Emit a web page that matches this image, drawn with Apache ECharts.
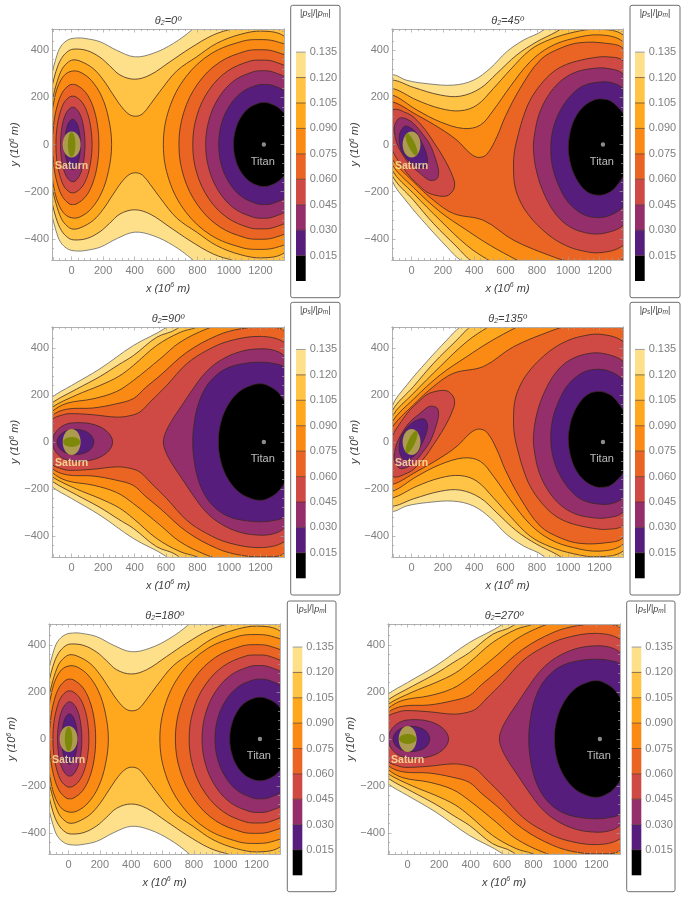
<!DOCTYPE html>
<html><head><meta charset="utf-8">
<style>html,body{margin:0;padding:0;background:#fff}#c{width:685px;height:899px}</style>
<script src="https://cdn.jsdelivr.net/npm/echarts@6/dist/echarts.min.js"></script>
</head><body><div id="c"></div>
<script>
// ---- category & tick data
const levels=[0,0.015,0.03,0.045,0.06,0.075,0.09,0.105,0.12,0.135,0.15];
const bandColors=['#000000','#561d7c','#952f6c','#cf4a45','#ea6423','#fb8a14','#ffa81e','#ffc445','#ffe08a','#ffffff'];
const xMajor=[0,200,400,600,800,1000,1200];
const yMajor=[-400,-200,0,200,400];
const xMinor=[-120,-80,-40,40,80,120,160,240,280,320,360,440,480,520,560,640,680,720,760,840,880,920,960,1040,1080,1120,1160,1240,1280,1320];
const yMinor=[-480,-440,-360,-320,-280,-240,-160,-120,-80,-40,40,80,120,160,240,280,320,360,440,480];
const xRange=[-125,1350], yRange=[-490,490];

// ---- contours: theta2 = 0 deg, upper half (mirrored in y)
const a135=[[-200,0],[-170,150],[-125,300],[-100,365],[-70,415],[-20,445],[40,452],[84,450],[180,436],[285,400],[400,372],[519,387],[647,429],[764,486],[900,570],[1200,640],[1500,600],[1900,300],[2000,0]];
const a120=[[-190,0],[-165,130],[-125,245],[-100,310],[-65,365],[-20,397],[20,405],[100,398],[180,370],[240,335],[307,295],[400,277],[498,295],[625,351],[752,408],[901,465],[1030,493],[1200,530],[1400,520],[1700,300],[1800,0]];
const a105=[[-180,0],[-160,100],[-125,184],[-100,250],[-65,315],[-30,345],[8,359],[60,352],[137,322],[200,275],[260,215],[317,160],[365,128],[408,120],[450,130],[500,170],[561,225],[668,312],[795,372],[922,429],[1071,467],[1210,481],[1350,460],[1600,300],[1700,0]];
const a090s=[[-170,0],[-140,70],[-125,133],[-108,200],[-80,258],[-40,298],[10,312],[60,305],[125,272],[190,205],[235,110],[254,0]];
const a090t=[[583,0],[620,152],[725,286],[886,385],[1085,438],[1190,445],[1295,438],[1494,385],[1655,286],[1760,152],[1797,0]];
const a075s=[[-122,0],[-114,87],[-92,164],[-59,221],[-17,251],[5,255],[34,251],[89,221],[134,164],[163,87],[173,0]];
const a075t=[[682,0],[713,137],[802,258],[938,348],[1106,396],[1195,402],[1284,396],[1452,348],[1588,258],[1677,137],[1708,0]];
const a060s=[[-100,0],[-94,70],[-75,132],[-48,178],[-13,202],[5,205],[27,202],[68,178],[101,132],[122,70],[130,0]];
const a060t=[[770,0],[796,122],[872,230],[988,310],[1129,353],[1205,358],[1281,353],[1422,310],[1538,230],[1614,122],[1640,0]];
const a045s=[[-71,0],[-66,54],[-53,102],[-32,137],[-7,156],[7,158],[21,156],[46,137],[67,102],[80,54],[85,0]];
const a045t=[[852,0],[874,107],[937,201],[1033,271],[1152,308],[1215,313],[1278,308],[1397,271],[1493,201],[1556,107],[1578,0]];
const a030s=[[-44,0],[-41,37],[-32,69],[-19,93],[-3,105],[6,107],[15,105],[31,93],[44,69],[53,37],[56,0]];
const a030t=[[935,0],[952,87],[1003,164],[1080,221],[1175,251],[1225,255],[1275,251],[1370,221],[1447,164],[1498,87],[1515,0]];
const a015t=[[1029,0],[1041,61],[1074,114],[1125,154],[1188,175],[1222,178],[1256,175],[1319,154],[1370,114],[1403,61],[1415,0]];

// ---- theta2 = 90 deg, upper half (mirrored in y)
const c135=[[-230,0],[-200,140],[-125,191],[0,241],[180,312],[392,411],[604,489],[800,600],[1300,650],[1800,300],[1900,0]];
const c120=[[-220,0],[-200,120],[-125,167],[30,225],[180,279],[300,330],[392,368],[540,446],[668,482],[800,570],[1300,620],[1750,300],[1850,0]];
const c105=[[-210,0],[-200,100],[-125,148],[30,200],[180,241],[300,280],[392,326],[540,411],[689,467],[795,489],[1000,550],[1300,590],[1700,300],[1800,0]];
const c090=[[-205,0],[-190,80],[-125,130],[-30,165],[136,184],[285,215],[392,262],[562,354],[689,425],[859,482],[1000,510],[1250,540],[1650,300],[1750,0]];
const c075=[[-200,0],[-180,60],[-125,113],[-30,140],[136,145],[285,163],[392,185],[470,232],[562,283],[731,382],[922,453],[1071,482],[1220,489],[1350,475],[1600,300],[1700,0]];
const c060=[[-170,0],[-160,50],[-125,96],[-60,115],[-12,121],[136,116],[285,106],[370,112],[434,128],[498,170],[604,241],[731,333],[859,390],[1000,430],[1200,450],[1350,425],[1550,300],[1650,0]];
const c045s=[[-122,0],[-112,30],[-80,58],[-30,77],[20,82],[69,82],[120,78],[180,65],[225,45],[252,22],[260,0]];
const c045t=[[583,0],[600,45],[640,95],[700,155],[770,225],[850,295],[944,347],[1071,385],[1199,397],[1290,390],[1350,368],[1500,250],[1600,0]];
const c030s=[[-93,0],[-86,18],[-66,35],[-35,47],[4,53],[24,54],[44,53],[83,47],[114,35],[134,18],[141,0]];
const c030t=[[770,0],[775,60],[800,150],[850,230],[920,285],[1000,318],[1100,335],[1200,340],[1280,335],[1350,319],[1480,200],[1550,0]];
const c015t=[[933,0],[949,85],[995,159],[1066,215],[1153,244],[1199,248],[1236,244],[1307,215],[1364,159],[1401,85],[1414,0]];

// ---- theta2 = 45 deg, full closed curves
const b135=[[-170,0],[-150,250],[-125,295],[-29,272],[100,258],[268,252],[396,273],[502,323],[608,394],[715,443],[842,486],[1000,600],[1500,600],[1700,0],[1500,-650],[700,-650],[311,-490],[226,-435],[98,-343],[-29,-244],[-125,-152]];
const b120=[[-165,0],[-150,240],[-125,273],[13,242],[183,210],[311,205],[438,238],[545,302],[672,380],[800,436],[927,479],[1050,530],[1500,560],[1650,0],[1500,-620],[700,-620],[375,-490],[290,-435],[141,-336],[13,-237],[-125,-130]];
const b105=[[-160,0],[-150,210],[-125,238],[35,188],[183,153],[311,143],[417,167],[523,238],[629,316],[757,401],[885,446],[1033,476],[1182,489],[1350,465],[1550,300],[1620,0],[1500,-600],[800,-600],[491,-490],[353,-428],[183,-322],[13,-208],[-125,-108]];
const b090=[[-155,0],[-150,180],[-125,210],[35,146],[183,96],[332,68],[438,82],[523,146],[629,245],[757,351],[885,415],[1033,450],[1203,465],[1350,436],[1530,280],[1600,0],[1480,-560],[900,-570],[672,-490],[502,-428],[353,-364],[183,-286],[13,-183],[-125,-85]];
const b075=[[-150,0],[-145,150],[-125,181],[35,125],[183,68],[290,18],[375,-38],[428,-55],[481,-41],[545,33],[598,118],[693,238],[821,358],[948,408],[1076,432],[1246,429],[1350,408],[1500,260],[1580,0],[1500,-350],[1350,-485],[1200,-510],[1000,-495],[906,-477],[651,-406],[460,-322],[268,-293],[141,-237],[13,-159],[-125,-62]];
const b060s=[[-119,146],[-85,148],[-51,139],[-5,125],[34,103],[90,60],[140,11],[190,-40],[236,-95],[262,-135],[274,-159],[272,-185],[257,-202],[235,-215],[204,-220],[150,-215],[98,-202],[45,-172],[-8,-138],[-65,-88],[-119,-31],[-175,60]];
const b060t=[[651,-100],[657,-30],[683,47],[715,120],[757,188],[825,255],[906,309],[990,340],[1076,357],[1160,368],[1246,372],[1350,355],[1500,200],[1550,-100],[1500,-300],[1350,-428],[1203,-459],[1076,-449],[990,-430],[906,-399],[825,-355],[757,-307],[700,-250],[661,-180]];
const b045s=[[-110,75],[-95,100],[-72,113],[-30,108],[13,89],[70,45],[119,-3],[155,-65],[172,-109],[170,-135],[162,-145],[140,-152],[108,-150],[50,-120],[-8,-87],[-55,-45],[-93,4],[-108,45]];
const b045t=[[778,-20],[787,50],[815,130],[870,205],[945,265],[1040,305],[1150,322],[1246,323],[1350,299],[1500,150],[1520,-100],[1480,-220],[1350,-343],[1246,-374],[1140,-378],[1012,-350],[920,-295],[850,-215],[800,-120]];
const b030s=[[-78,40],[-62,65],[-40,78],[-5,70],[34,47],[62,12],[87,-24],[100,-55],[102,-74],[92,-92],[77,-99],[40,-95],[3,-81],[-30,-60],[-61,-32],[-75,0]];
const b030t=[[889,-10],[905,70],[950,145],[1020,210],[1100,250],[1224,266],[1300,258],[1350,238],[1450,160],[1510,0],[1450,-180],[1350,-265],[1270,-300],[1182,-310],[1090,-295],[1000,-245],[940,-175],[900,-95]];
const b015t=[[1001,-10],[1015,60],[1050,120],[1105,165],[1170,190],[1213,193],[1270,185],[1330,150],[1350,132],[1395,70],[1410,-10],[1395,-80],[1350,-137],[1290,-190],[1240,-210],[1192,-215],[1130,-205],[1075,-170],[1030,-115],[1008,-60]];

// ---- bodies
const saturnDisc=[0,0,57,55];
const titanDot=[1222,0];
const saturnLabel=[0,-92], titanLabel=[1215,-72];
// Olive ring band of Saturn for each panel: radii in data units, tilt in degrees
const ringBands={p0:[24,52,0],p45:[22,52,25],p90:[54,21,0],p135:[22,52,-25],p180:[24,52,0],p270:[54,21,0]};

function sym(u){const d=u.filter(p=>p[1]!==0).reverse().map(p=>[p[0],-p[1]]);return u.concat(d);}
function flip(c){return c.map(p=>[p[0],-p[1]]);}

// [upper level index, curve] painted from the outermost level in
const set0=[[9,sym(a135)],[8,sym(a120)],[7,sym(a105)],[6,sym(a090s)],[6,sym(a090t)],[5,sym(a075s)],[5,sym(a075t)],[4,sym(a060s)],[4,sym(a060t)],[3,sym(a045s)],[3,sym(a045t)],[2,sym(a030s)],[2,sym(a030t)],[1,sym(a015t)]];
const set90=[[9,sym(c135)],[8,sym(c120)],[7,sym(c105)],[6,sym(c090)],[5,sym(c075)],[4,sym(c060)],[3,sym(c045s)],[3,sym(c045t)],[2,sym(c030s)],[2,sym(c030t)],[1,sym(c015t)]];
const set45=[[9,b135],[8,b120],[7,b105],[6,b090],[5,b075],[4,b060s],[4,b060t],[3,b045s],[3,b045t],[2,b030s],[2,b030t],[1,b015t]];
const set135=set45.map(r=>[r[0],flip(r[1])]);

const FONT='"Liberation Sans",Arial,sans-serif';
const panels=[
 {t:'0',  set:set0,  ring:ringBands.p0,  g:[52,29,232,231],  box:[290.7,5.3,49.3,292.4],  bar:[296,26.7,9.7,254.3]},
 {t:'45', set:set45, ring:ringBands.p45, g:[392,29,231,231], box:[630,5.3,50,292.4],     bar:[635,26.7,9.7,254.3]},
 {t:'90', set:set90, ring:ringBands.p90, g:[52,327,232,230], box:[290.7,302.3,49.3,292.7],bar:[296,324,9.7,254.3]},
 {t:'135',set:set135,ring:ringBands.p135,g:[392,327,231,230],box:[630,302.3,50,292.7],   bar:[635,324,9.7,254.3]},
 {t:'180',set:set0,  ring:ringBands.p180,g:[49,624,231,230], box:[287.3,601,48.7,290.7],  bar:[292.7,621.7,9.6,253.6]},
 {t:'270',set:set90, ring:ringBands.p270,g:[388,624,232,230],box:[626.7,601,48.3,290.7],  bar:[631.7,621.7,9.6,253.6]}
];

const grids=[],xAxes=[],yAxes=[],series=[],titles=[],graphics=[];
const frame={show:true,onZero:false,lineStyle:{color:'#b0b0b0',width:1}};
function axisSet(kind,gi,range,major,minor){
  const isX=kind==='x';
  const names=isX?['bottom','top']:['left','right'];
  const list=isX?xAxes:yAxes;
  const mainIdx=list.length;
  names.forEach(pos=>{
    [[major,3.5],[minor,2]].forEach(([vals,len],k)=>{
      const isMain=pos===names[0]&&k===0;
      const ax={type:'value',gridIndex:gi,position:pos,min:range[0],max:range[1],z:6,
        splitLine:{show:false},axisLine:frame,
        axisTick:{show:true,inside:true,length:len,customValues:vals,lineStyle:{color:'#a0a0a0',width:.7}},
        axisLabel:{show:false}};
      if(isMain){
        ax.axisLabel={show:true,customValues:major,margin:isX?5:3,color:'#7f7f7f',fontFamily:FONT,fontSize:11,
          formatter:v=>String(v).replace('-','\u2212')};
        ax.name=isX?'{i|x} {n|(10}{s|6}{n| m)}':'{i|y} {n|(10}{s|6}{n| m)}';
        ax.nameLocation='middle';ax.nameGap=isX?22:27;
        const st={color:'#404040',fontFamily:FONT,fontStyle:'italic',fontWeight:'normal',fontSize:11};
        ax.nameTextStyle={...st,rich:{i:st,n:st,s:{...st,fontSize:7,verticalAlign:'top',lineHeight:13}}};
      }
      list.push(ax);
    });
  });
  return mainIdx;
}
panels.forEach(p=>{
  const gi=grids.length;
  grids.push({left:p.g[0],top:p.g[1],width:p.g[2],height:p.g[3],show:false});
  const xi=axisSet('x',gi,xRange,xMajor,xMinor);
  const yi=axisSet('y',gi,yRange,yMajor,yMinor);
  // filled contours
  series.push({type:'custom',xAxisIndex:xi,yAxisIndex:yi,clip:true,silent:true,z:2,
    data:p.set.map(r=>[levels[r[0]]]),
    renderItem:(params,api)=>{
      const r=p.set[params.dataIndex];
      return {type:'polygon',shape:{points:r[1].map(q=>api.coord(q)),smooth:0.36},
        style:{fill:bandColors[r[0]-1],stroke:r[0]===9?'rgba(110,110,105,.85)':'rgba(60,40,35,.78)',lineWidth:1}};
    }});
  // Saturn disc and its ring band, Titan dot
  series.push({type:'custom',xAxisIndex:xi,yAxisIndex:yi,clip:true,silent:true,z:3,
    data:[saturnDisc],
    renderItem:(params,api)=>{
      const c=api.coord([saturnDisc[0],saturnDisc[1]]);
      const sx=api.coord([1,0])[0]-api.coord([0,0])[0], sy=api.coord([0,0])[1]-api.coord([0,1])[1];
      const tilt=p.ring[2]*Math.PI/180;
      const t=api.coord(titanDot);
      return {type:'group',children:[
        {type:'ellipse',shape:{cx:c[0],cy:c[1],rx:saturnDisc[2]*sx,ry:saturnDisc[3]*sy},style:{fill:'rgba(188,176,72,.86)'}},
        {type:'ellipse',originX:c[0],originY:c[1],rotation:tilt,shape:{cx:c[0],cy:c[1],rx:p.ring[0]*sx,ry:p.ring[1]*sy},style:{fill:'rgba(122,136,4,.92)'}},
        {type:'circle',shape:{cx:t[0],cy:t[1],r:2.2},style:{fill:'#8c8c8c'}}
      ]};
    }});
  // labels
  series.push({type:'scatter',xAxisIndex:xi,yAxisIndex:yi,symbolSize:0,silent:true,z:4,clip:false,
    data:[{value:saturnLabel,name:'Saturn',label:{color:'#fff0a0',fontWeight:'bold',fontSize:10.5}},
          {value:titanLabel,name:'Titan',label:{color:'#e6e6e6',fontSize:11}}],
    label:{show:true,position:'inside',formatter:'{b}',fontFamily:FONT}});
  // title
  const st={color:'#404040',fontFamily:FONT,fontStyle:'italic',fontWeight:'normal',fontSize:11};
  titles.push({text:'{n|\u03b8}{s|2}{n|='+p.t+'\u00ba}',left:p.g[0]+p.g[2]/2,top:p.g[1]-15,textAlign:'center',padding:0,
    textStyle:{...st,rich:{n:st,s:{...st,fontSize:7,verticalAlign:'bottom',lineHeight:13}}}});
  // legend box
  graphics.push({type:'rect',silent:true,z:0,shape:{x:p.box[0],y:p.box[1],width:p.box[2],height:p.box[3],r:2},
    style:{fill:'#fff',stroke:'#6e6e6e',lineWidth:1}});
  const ht={fill:'#404040',fontFamily:FONT,fontSize:9};
  graphics.push({type:'text',silent:true,z:1,x:p.box[0]+p.box[2]/2,y:p.box[1]+8,
    style:{text:'|{i|p}{s|s}|/|{i|p}{s|m}|',align:'center',verticalAlign:'middle',...ht,
      rich:{i:{...ht,fontStyle:'italic'},s:{...ht,fontSize:6.5,fontStyle:'italic',verticalAlign:'bottom',lineHeight:11}}}});
  // colour bar
  const bg=grids.length;
  grids.push({left:p.bar[0],top:p.bar[1],width:p.bar[2],height:p.bar[3],show:false});
  const bx=xAxes.length, by=yAxes.length;
  xAxes.push({type:'value',gridIndex:bg,min:0,max:1,show:false});
  yAxes.push({type:'value',gridIndex:bg,position:'right',min:0,max:0.15,interval:0.015,
    splitLine:{show:false},axisLine:{show:false},axisTick:{show:false},
    axisLabel:{margin:4,color:'#7f7f7f',fontFamily:FONT,fontSize:11,
      formatter:v=>(v<0.001||v>0.149)?'':v.toFixed(3)}});
  series.push({type:'custom',xAxisIndex:bx,yAxisIndex:by,silent:true,clip:false,z:2,
    data:bandColors.map((c,i)=>[levels[i],levels[i+1]]),
    renderItem:(params,api)=>{
      const i=params.dataIndex;
      const lo=api.coord([0,levels[i]]),hi=api.coord([1,levels[i+1]]);
      const kids=[{type:'rect',shape:{x:lo[0],y:hi[1],width:hi[0]-lo[0],height:lo[1]-hi[1]},style:{fill:bandColors[i]}}];
      if(i>0&&i<10) kids.push({type:'line',shape:{x1:lo[0],y1:lo[1],x2:hi[0],y2:lo[1]},
        style:{stroke:i===9?'#9a9a9a':'rgba(70,50,40,.65)',lineWidth:1}});
      return {type:'group',children:kids};
    }});
});

const chart=echarts.init(document.getElementById('c'),null,{renderer:'canvas'});
chart.setOption({animation:false,backgroundColor:'#fff',title:titles,grid:grids,xAxis:xAxes,yAxis:yAxes,series,graphic:{elements:graphics},tooltip:{show:false},legend:{show:false}});
</script></body></html>
